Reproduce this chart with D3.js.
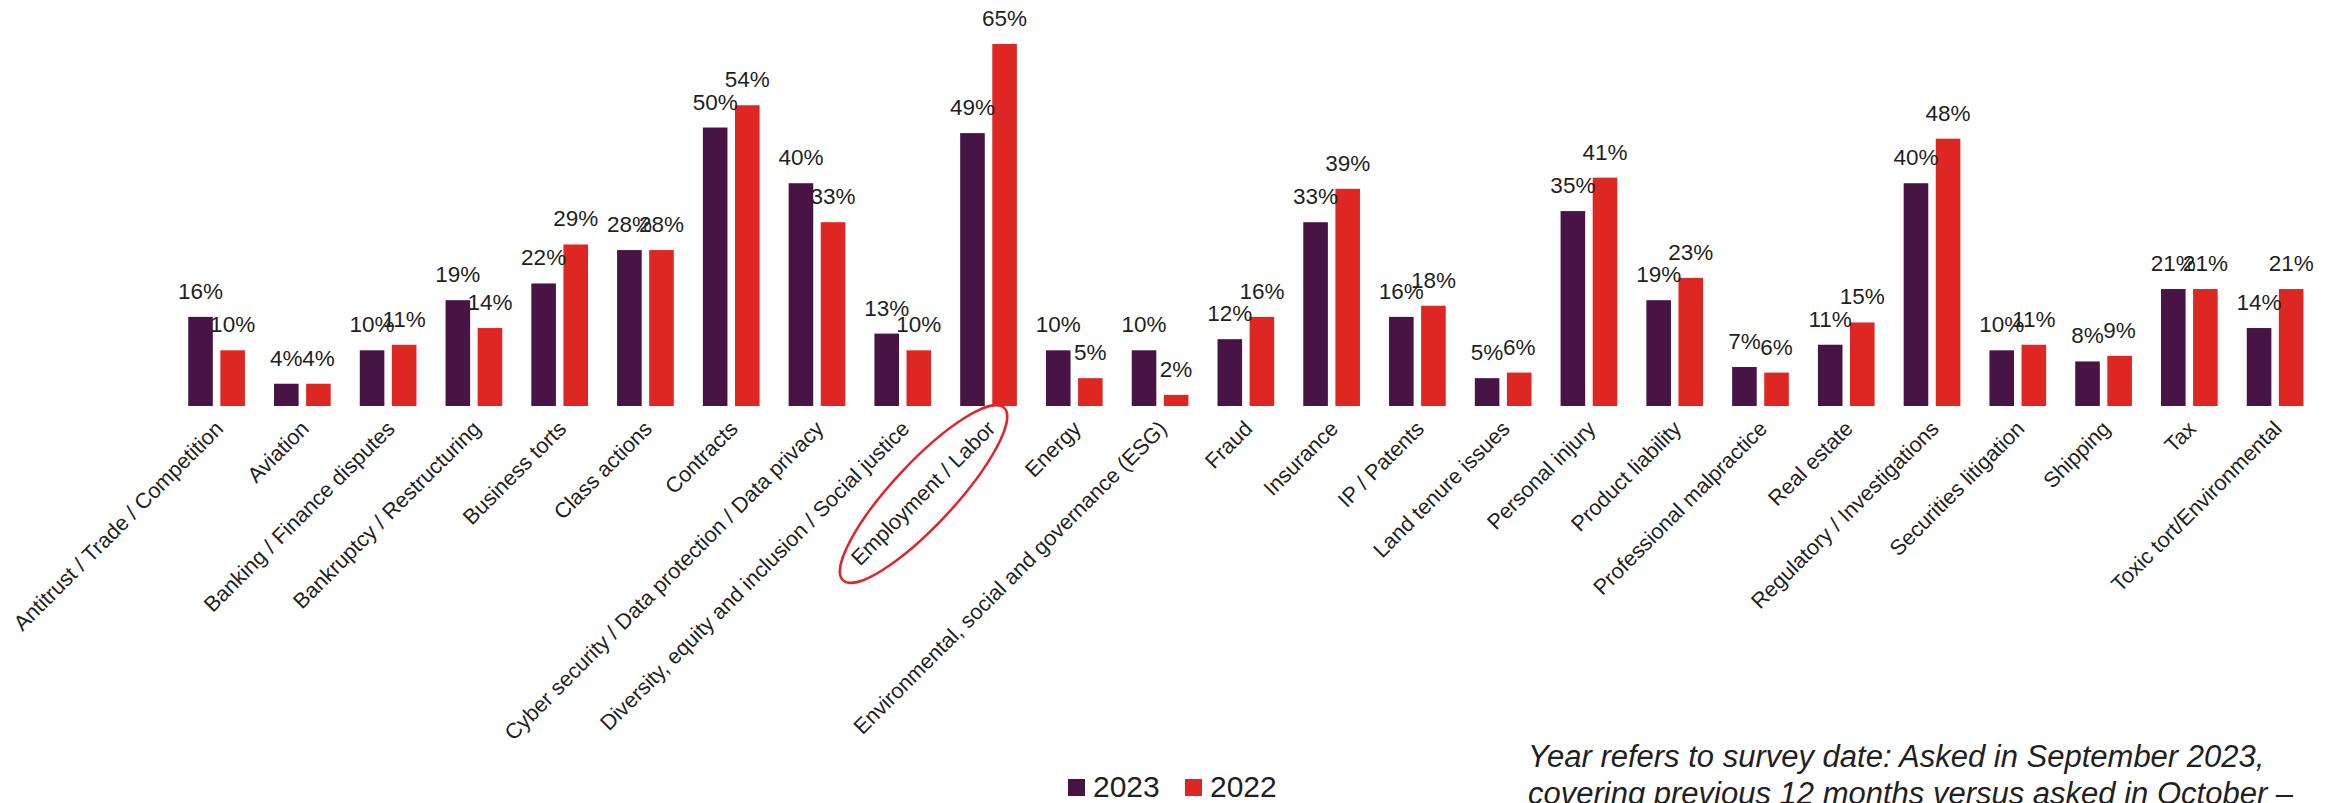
<!DOCTYPE html>
<html>
<head>
<meta charset="utf-8">
<script src="https://cdn.jsdelivr.net/npm/d3@7"></script>
<style>
  html, body { margin: 0; padding: 0; background: #ffffff; }
  svg { display: block; font-family: "Liberation Sans", Arial, sans-serif; }
</style>
</head>
<body>
<svg id="chart" width="2343" height="803"></svg>
<script>
// Practice areas surveyed
const categories = [
  "Antitrust / Trade / Competition",
  "Aviation",
  "Banking / Finance disputes",
  "Bankruptcy / Restructuring",
  "Business torts",
  "Class actions",
  "Contracts",
  "Cyber security / Data protection / Data privacy",
  "Diversity, equity and inclusion / Social justice",
  "Employment / Labor",
  "Energy",
  "Environmental, social and governance (ESG)",
  "Fraud",
  "Insurance",
  "IP / Patents",
  "Land tenure issues",
  "Personal injury",
  "Product liability",
  "Professional malpractice",
  "Real estate",
  "Regulatory / Investigations",
  "Securities litigation",
  "Shipping",
  "Tax",
  "Toxic tort/Environmental"
];

// Share of respondents (%) per survey year
const values2023 = [16, 4, 10, 19, 22, 28, 50, 40, 13, 49, 10, 10, 12, 33, 16, 5, 35, 19, 7, 11, 40, 10, 8, 21, 14];
const values2022 = [10, 4, 11, 14, 29, 28, 54, 33, 10, 65, 5, 2, 16, 39, 18, 6, 41, 23, 6, 15, 48, 11, 9, 21, 21];

const seriesNames = ["2023", "2022"];
const seriesColors = ["#481446", "#de2722"];

const highlighted = "Employment / Labor";

const footnoteLines = [
  "Year refers to survey date: Asked in September 2023,",
  "covering previous 12 months versus asked in October \u2013"
];

const rows = categories.map((c, i) => ({
  category: c,
  values: [
    { series: seriesNames[0], value: values2023[i] },
    { series: seriesNames[1], value: values2022[i] }
  ]
}));

const svg = d3.select("#chart");
const textColor = "#231f20";

const x0 = d3.scaleBand()
  .domain(categories)
  .range([173.7, 2318])
  .paddingInner(0.339)
  .paddingOuter(0.1695);

const x1 = d3.scaleBand()
  .domain(seriesNames)
  .range([0, x0.bandwidth()])
  .paddingInner(0.234)
  .paddingOuter(0);

const y = d3.scaleLinear()
  .domain([0, 65])
  .range([406, 44]);

const color = d3.scaleOrdinal().domain(seriesNames).range(seriesColors);

// Grouped bars
const groups = svg.append("g")
  .selectAll("g")
  .data(rows)
  .join("g")
  .attr("transform", d => `translate(${x0(d.category)},0)`);

groups.selectAll("rect")
  .data(d => d.values)
  .join("rect")
  .attr("x", d => x1(d.series))
  .attr("y", d => y(d.value))
  .attr("width", x1.bandwidth())
  .attr("height", d => y(0) - y(d.value))
  .attr("fill", d => color(d.series));

// Value labels above each bar
groups.selectAll("text")
  .data(d => d.values)
  .join("text")
  .attr("x", d => x1(d.series) + x1.bandwidth() / 2)
  .attr("y", d => y(d.value) - 18)
  .attr("text-anchor", "middle")
  .attr("font-size", 22.5)
  .attr("fill", textColor)
  .text(d => d.value + "%");

// Category axis (no line, no ticks), labels rotated 45 degrees
const xAxis = d3.axisBottom(x0).tickSize(0).tickPadding(0);
const axisG = svg.append("g")
  .attr("transform", `translate(0,${y(0)})`)
  .call(xAxis);
axisG.select(".domain").remove();
axisG.selectAll(".tick text")
  .attr("font-family", "Liberation Sans, Arial, sans-serif")
  .attr("font-size", 21.6)
  .attr("fill", textColor)
  .attr("text-anchor", "end")
  .attr("dy", 0)
  .attr("y", 0)
  .attr("transform", "translate(8,24) rotate(-45)");

// Ring drawn around the highlighted category label
const hx = x0(highlighted) + x0.bandwidth() / 2;
svg.append("ellipse")
  .attr("cx", 0)
  .attr("cy", 0)
  .attr("rx", 118)
  .attr("ry", 31)
  .attr("transform", `translate(${hx - 65},${y(0) + 88}) rotate(-47)`)
  .attr("fill", "none")
  .attr("stroke", "#e0262a")
  .attr("stroke-width", 2.5);

// Legend
const legend = svg.append("g").attr("transform", "translate(1068,0)");
const legendItems = legend.selectAll("g")
  .data(seriesNames)
  .join("g")
  .attr("transform", (d, i) => `translate(${i * 117},0)`);
legendItems.append("rect")
  .attr("x", 0)
  .attr("y", 779)
  .attr("width", 17)
  .attr("height", 17)
  .attr("fill", d => color(d));
legendItems.append("text")
  .attr("x", 25)
  .attr("y", 797)
  .attr("font-size", 30)
  .attr("fill", textColor)
  .text(d => d);

// Footnote
svg.append("g")
  .selectAll("text")
  .data(footnoteLines)
  .join("text")
  .attr("x", 1528)
  .attr("y", (d, i) => 767 + i * 36.5)
  .attr("font-size", 31)
  .attr("font-style", "italic")
  .attr("fill", textColor)
  .text(d => d);
</script>
</body>
</html>
